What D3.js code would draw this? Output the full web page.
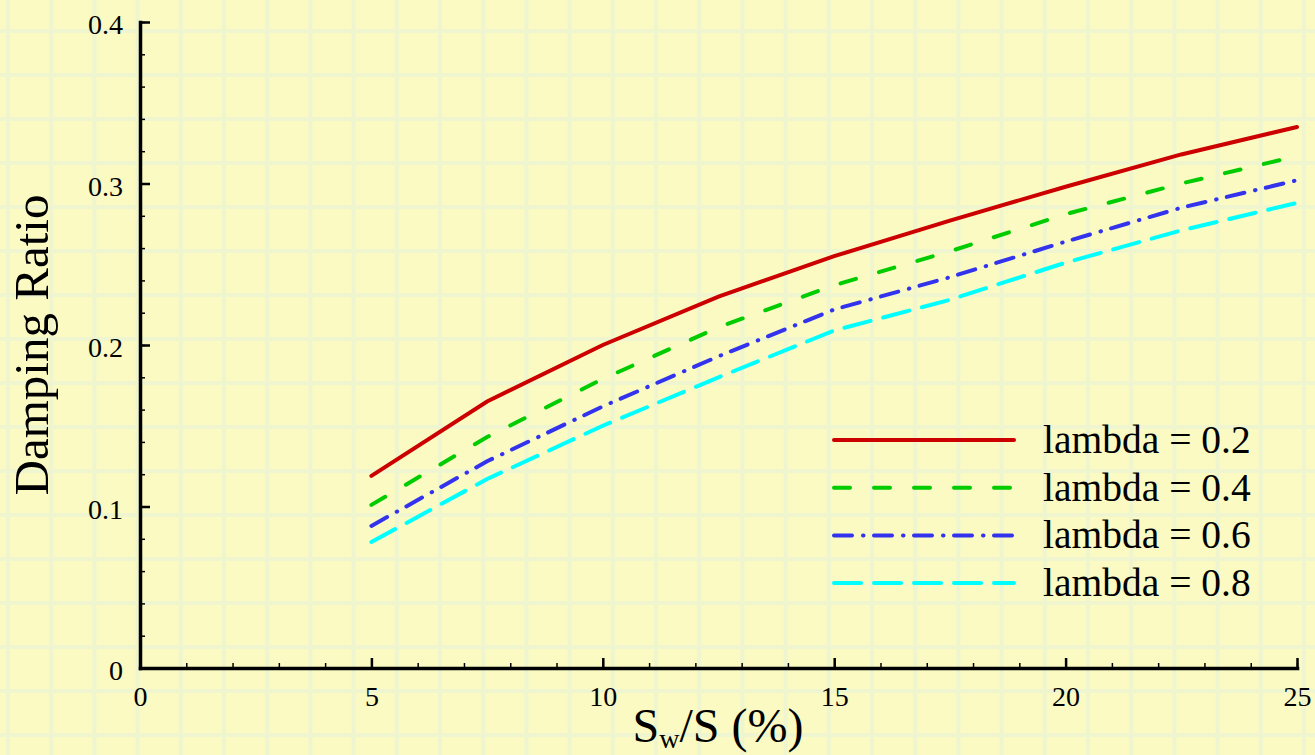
<!DOCTYPE html>
<html>
<head>
<meta charset="utf-8">
<script src="https://cdn.jsdelivr.net/npm/d3@7"></script>
<style>
  body { margin: 0; background: #fafac2; }
  svg { display: block; }
  .tick text { font-family: "Liberation Serif", "Times New Roman", serif; }
</style>
</head>
<body>
<svg class="chart" width="1315" height="755"></svg>
<script>
const xs = [5, 7.5, 10, 12.5, 15, 17.5, 20, 22.5, 25]
const lambda02 = [0.119, 0.165, 0.200, 0.230, 0.255, 0.277, 0.298, 0.318, 0.335]
const lambda04 = [0.101, 0.143, 0.179, 0.211, 0.237, 0.258, 0.281, 0.300, 0.317]
const lambda06 = [0.088, 0.128, 0.162, 0.193, 0.222, 0.242, 0.264, 0.285, 0.302]
const lambda08 = [0.078, 0.117, 0.150, 0.180, 0.209, 0.228, 0.251, 0.271, 0.288]
const seriesNames = ['lambda = 0.2', 'lambda = 0.4', 'lambda = 0.6', 'lambda = 0.8']
const xTicks = [0, 5, 10, 15, 20, 25]
const yTicks = [0, 0.1, 0.2, 0.3, 0.4]

const series = [
    {name: seriesNames[0], values: lambda02, color: '#cc0000', dash: null},
    {name: seriesNames[1], values: lambda04, color: '#00cc00', dash: '16,24'},
    {name: seriesNames[2], values: lambda06, color: '#3333ee', dash: '18,11,0.5,10.5'},
    {name: seriesNames[3], values: lambda08, color: '#00ffff', dash: '27,13'}
]

const svg = d3.select('.chart')
const W = 1315, H = 755

// graph-paper background
const grid = svg.append('g').attr('stroke', '#eef5cf').attr('stroke-width', 4)
grid.selectAll('.gv').data(d3.range(0, 31)).join('line')
    .attr('x1', i => 8 + i * 43.2).attr('x2', i => 8 + i * 43.2)
    .attr('y1', 0).attr('y2', H)
grid.selectAll('.gh').data(d3.range(-1, 18)).join('line')
    .attr('y1', i => 31 + i * 44).attr('y2', i => 31 + i * 44)
    .attr('x1', 0).attr('x2', W)

const x = d3.scaleLinear([0, 25], [140, 1297])
const y = d3.scaleLinear([0, 0.4], [668, 22])

// minor ticks
const minorX = d3.axisBottom(x).tickValues(d3.range(0, 26)).tickSize(-5).tickFormat('')
const minorY = d3.axisLeft(y).tickValues(d3.range(0, 0.401, 0.02)).tickSize(-5).tickFormat('')
svg.append('g').attr('transform', 'translate(0,668)').call(minorX)
    .call(g => g.select('.domain').remove())
    .selectAll('line').attr('stroke', '#000').attr('stroke-width', 1.5)
svg.append('g').attr('transform', 'translate(140,0)').call(minorY)
    .call(g => g.select('.domain').remove())
    .selectAll('line').attr('stroke', '#000').attr('stroke-width', 1.5)

// major axes
const xAxis = d3.axisBottom(x).tickValues(xTicks).tickSize(-10).tickSizeOuter(0).tickPadding(18)
const yAxis = d3.axisLeft(y).tickValues(yTicks).tickSize(-10).tickSizeOuter(0).tickPadding(17)
    .tickFormat(d => d === 0 ? '0' : d3.format('.1f')(d))

svg.append('g').attr('transform', 'translate(0,668)').call(xAxis)
    .call(g => g.select('.domain').attr('stroke', '#000').attr('stroke-width', 3.5).attr('stroke-linecap', 'square'))
    .call(g => g.selectAll('.tick line').attr('stroke-width', 2.5))
    .call(g => g.selectAll('.tick text').attr('font-size', 28).attr('fill', '#000'))

svg.append('g').attr('transform', 'translate(140,0)').call(yAxis)
    .call(g => g.select('.domain').attr('stroke', '#000').attr('stroke-width', 3.5).attr('stroke-linecap', 'square'))
    .call(g => g.selectAll('.tick line').attr('stroke-width', 2.5))
    .call(g => g.selectAll('.tick text').attr('font-size', 28).attr('fill', '#000').attr('dy', '0.42em'))

// curves
const line = d3.line()
    .x((d, i) => x(xs[i]))
    .y(d => y(d))

svg.append('g').selectAll('path')
    .data(series)
    .join('path')
        .attr('d', d => line(d.values))
        .attr('fill', 'none')
        .attr('stroke', d => d.color)
        .attr('stroke-width', 4)
        .attr('stroke-linecap', 'round')
        .attr('stroke-dasharray', d => d.dash)

// legend
const legend = svg.append('g').attr('transform', 'translate(832,440)')
const item = legend.selectAll('g')
    .data(series)
    .join('g')
        .attr('transform', (d, i) => `translate(0,${i * 47.7})`)
item.append('line')
    .attr('x1', 2).attr('x2', 182)
    .attr('stroke', d => d.color)
    .attr('stroke-width', 4)
    .attr('stroke-linecap', 'round')
    .attr('stroke-dasharray', d => d.dash)
item.append('text')
    .text(d => d.name)
    .attr('x', 211)
    .attr('y', 13)
    .attr('font-family', '"Liberation Serif", serif')
    .attr('font-size', 39.5)
    .attr('fill', '#000')

// axis titles
const xTitle = svg.append('text')
    .attr('x', 718)
    .attr('y', 742)
    .attr('text-anchor', 'middle')
    .attr('font-family', '"Liberation Serif", serif')
    .attr('font-size', 48)
    .attr('fill', '#000')
xTitle.append('tspan').text('S')
xTitle.append('tspan').text('w').attr('font-size', 28).attr('dy', 6)
xTitle.append('tspan').text('/S (%)').attr('dy', -6)

svg.append('text')
    .text('Damping Ratio')
    .attr('text-anchor', 'middle')
    .attr('transform', 'translate(48,345) rotate(-90)')
    .attr('font-family', '"Liberation Serif", serif')
    .attr('font-size', 49)
    .attr('fill', '#000')
</script>
</body>
</html>
